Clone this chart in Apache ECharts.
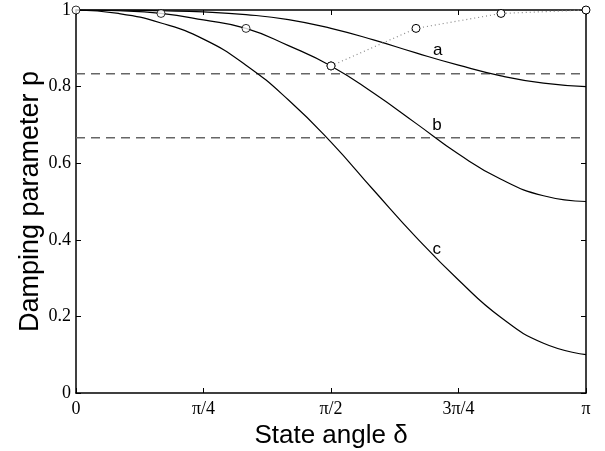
<!DOCTYPE html>
<html>
<head>
<meta charset="utf-8">
<script src="https://cdn.jsdelivr.net/npm/echarts@6/dist/echarts.min.js"></script>
<style>
  html, body { margin: 0; padding: 0; background: #fff; }
  #main { width: 605px; height: 451px; }
</style>
</head>
<body>
<div id="main"></div>
<script>
// state angle in degrees (axis labelled in multiples of pi)
const deltaDeg = [0, 15, 30, 45, 60, 75, 90, 105, 120, 135, 150, 165, 180];
const curveA = [1, 1, 0.998, 0.995, 0.988, 0.975, 0.952, 0.922, 0.888, 0.856, 0.828, 0.809, 0.8];
const curveB = [1, 0.998, 0.991, 0.974, 0.952, 0.907, 0.854, 0.783, 0.704, 0.624, 0.558, 0.515, 0.5];
const curveC = [1, 0.991, 0.966, 0.924, 0.856, 0.765, 0.655, 0.53, 0.407, 0.295, 0.197, 0.13, 0.1];
// circle markers on curve b and the dotted mirror branch
const circleDeg = [0, 30, 60, 90];
const circleVal = [1, 0.991, 0.952, 0.854];
const mirrorDeg = [90, 120, 150, 180];
const mirrorVal = [0.854, 0.952, 0.991, 1];
// dashed reference levels
const levels = [5 / 6, 2 / 3];
const xTickLabels = {0: '0', 45: 'π/4', 90: 'π/2', 135: '3π/4', 180: 'π'};
const curveLabels = [
  {text: 'a', deg: 127.7, val: 0.896},
  {text: 'b', deg: 127.4, val: 0.698},
  {text: 'c', deg: 127.3, val: 0.376}
];

const serif = 'Liberation Serif';
const sans = 'Liberation Sans';

function pairs(xs, ys) {
  return xs.map((x, i) => [x, ys[i]]);
}

let myChart = echarts.init(document.getElementById('main'));

function curve(name, vals) {
  return {
    name: name,
    type: 'line',
    data: pairs(deltaDeg, vals),
    smooth: 0.5,
    showSymbol: false,
    lineStyle: {color: '#000', width: 1.2},
    z: 3
  };
}

const circleStyle = {color: '#fff', borderColor: '#000', borderWidth: 1};

let series = [];
levels.forEach(function (v) {
  series.push({
    type: 'line',
    data: [[0, v], [180, v]],
    showSymbol: false,
    lineStyle: {color: '#666', width: 1.5, type: [9, 6]},
    z: 2
  });
});
series.push(curve('a', curveA));
series.push(curve('b', curveB));
series.push(curve('c', curveC));
series.push({
  type: 'line',
  data: pairs(mirrorDeg, mirrorVal),
  symbol: 'circle',
  symbolSize: 8,
  clip: false,
  itemStyle: circleStyle,
  lineStyle: {color: '#888', width: 1.2, type: [1, 3]},
  z: 4
});
series.push({
  type: 'scatter',
  data: pairs(circleDeg, circleVal),
  symbol: 'circle',
  symbolSize: 8,
  clip: false,
  itemStyle: circleStyle,
  z: 5
});

const axisLine = {show: true, onZero: false, lineStyle: {color: '#000', width: 1.5}};
const axisTick = {show: true, inside: true, length: 5, lineStyle: {color: '#000'}};

let option = {
  animation: false,
  backgroundColor: '#fff',
  grid: {left: 76, top: 10, width: 510, height: 383, outerBoundsMode: 'none'},
  xAxis: [
    {
      type: 'value', min: 0, max: 180, interval: 45,
      name: 'State angle δ', nameLocation: 'middle', nameGap: 26,
      nameTextStyle: {fontFamily: sans, fontSize: 26, color: '#000'},
      axisLine: axisLine,
      axisTick: axisTick,
      axisLabel: {
        fontFamily: serif, fontSize: 18, color: '#000', margin: 7,
        formatter: function (v) { return xTickLabels[v]; }
      },
      splitLine: {show: false}
    },
    {
      type: 'value', min: 0, max: 180, interval: 45, position: 'top',
      axisLine: axisLine,
      axisTick: axisTick,
      axisLabel: {show: false},
      splitLine: {show: false}
    }
  ],
  yAxis: [
    {
      type: 'value', min: 0, max: 1, interval: 0.2,
      name: 'Damping parameter p', nameLocation: 'middle', nameGap: 32,
      nameMoveOverlap: false,
      nameTextStyle: {fontFamily: sans, fontSize: 27, color: '#000'},
      axisLine: axisLine,
      axisTick: axisTick,
      axisLabel: {fontFamily: serif, fontSize: 18, color: '#000', margin: 5},
      splitLine: {show: false}
    },
    {
      type: 'value', min: 0, max: 1, interval: 0.2, position: 'right',
      axisLine: axisLine,
      axisTick: axisTick,
      axisLabel: {show: false},
      splitLine: {show: false}
    }
  ],
  series: series
};
myChart.setOption(option);

// curve tags a, b, c placed through the axes
myChart.setOption({
  graphic: curveLabels.map(function (l) {
    let p = myChart.convertToPixel({xAxisIndex: 0, yAxisIndex: 0}, [l.deg, l.val]);
    return {
      type: 'text', x: p[0], y: p[1],
      style: {text: l.text, fontFamily: sans, fontSize: 17, fill: '#000', align: 'center', verticalAlign: 'middle'}
    };
  })
});
</script>
</body>
</html>
